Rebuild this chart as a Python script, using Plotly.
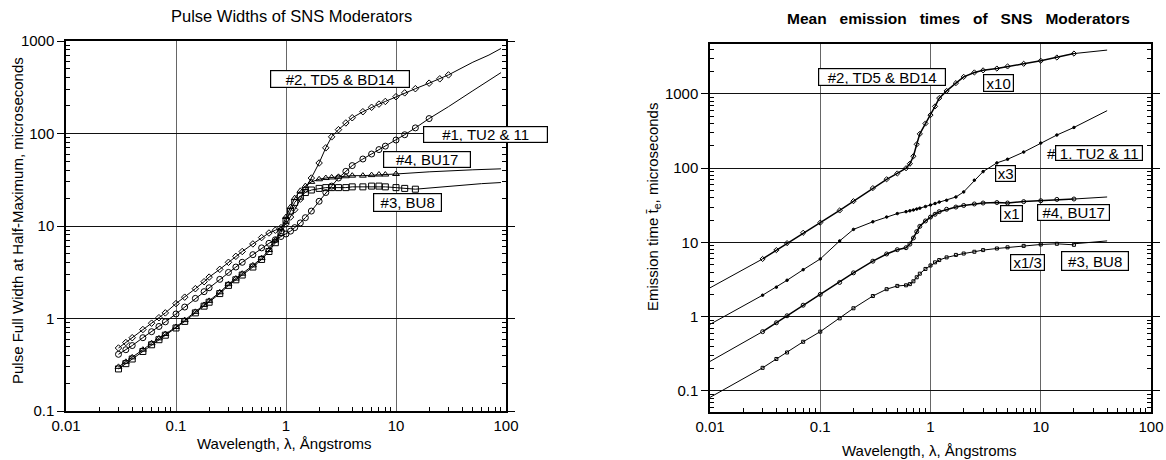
import math
import plotly.graph_objects as go

# ---------------- Left chart: pulse widths (FWHM, microseconds) ----------------
L_grid = [0.03, 0.035, 0.04, 0.05, 0.06, 0.07, 0.08, 0.1, 0.12, 0.15, 0.18, 0.2, 0.25,
          0.3, 0.35, 0.4, 0.5, 0.6, 0.7, 0.8, 0.9, 1.0, 1.1, 1.2, 1.35, 1.5, 1.7, 2.0,
          2.3, 2.6, 3, 3.5, 4, 5, 6, 7, 8, 10, 12, 15, 20, 25, 30]

L2_x = L_grid[:43]
L2_y = [0.48, 0.55, 0.62, 0.76, 0.89, 1.02, 1.15, 1.45, 1.7, 2.1, 2.5, 2.8, 3.4, 4.05,
        4.7, 5.3, 6.4, 7.5, 8.4, 9.0, 9.6, 10.5, 12.5, 15, 19.5, 25, 33, 48, 70, 92,
        110, 130, 148, 172, 192, 208, 222, 250, 275, 305, 350, 390, 430]
L2_fx = [30, 50, 70, 90]
L2_fy = [430, 590, 705, 830]

L1_x = L_grid[:41]
L1_y = [0.41, 0.46, 0.51, 0.62, 0.72, 0.82, 0.92, 1.12, 1.33, 1.65, 1.95, 2.15, 2.65,
        3.15, 3.6, 4.05, 4.9, 5.8, 6.5, 7.1, 7.7, 8.2, 8.8, 9.6, 10.8, 12.3, 14.5, 18.5,
        23, 27, 33, 39, 45, 53, 60, 67, 73, 85, 97, 115, 145]
L1_fx = [20, 30, 50, 70, 90]
L1_fy = [145, 195, 290, 375, 455]

L4_x = L_grid[:38]
L4_y = [0.30, 0.34, 0.38, 0.46, 0.54, 0.61, 0.68, 0.81, 0.96, 1.18, 1.4, 1.55, 1.92,
        2.35, 2.7, 3.05, 3.75, 4.5, 5.5, 7.0, 9.2, 12.5, 16, 20, 24, 27, 30, 32,
        33, 33.5, 34, 34.5, 35, 35, 35.5, 36, 36, 36.5]
L4_fx = [10, 20, 50, 90]
L4_fy = [36.5, 38.5, 40.5, 41.5]

L3_x = L_grid[:40]
L3_y = [0.285, 0.325, 0.365, 0.44, 0.52, 0.59, 0.66, 0.79, 0.93, 1.15, 1.36, 1.5, 1.86,
        2.28, 2.62, 2.95, 3.6, 4.35, 5.3, 6.6, 8.5, 11.5, 14.5, 18, 21, 23, 24.5, 25.5,
        26, 26, 26, 26, 26.5, 26.5, 27, 27, 26.5, 26, 25.5, 25]
L3_fx = [15, 30, 60, 90]
L3_fy = [25, 27, 28.7, 29.5]

# ---------------- Right chart: mean emission times (scaled) ----------------
R_x = [0.03, 0.04, 0.05, 0.07, 0.1, 0.15, 0.2, 0.3, 0.4, 0.5, 0.6, 0.65, 0.7, 0.75, 0.8,
       0.9, 1.0, 1.1, 1.2, 1.4, 1.7, 2, 2.5, 3, 4, 5, 7, 10, 14, 20]

R2_y = [6.0, 7.9, 9.8, 13.5, 18.5, 27, 36, 54, 71, 85, 100, 115, 145, 210, 290,
        400, 520, 680, 880, 1100, 1400, 1700, 1950, 2080, 2200, 2350, 2550, 2800, 3100, 3500]
R2_ext = ([0.01, 0.03], [2.45, 6.0], [20, 40], [3500, 3900])

R1_y = [1.95, 2.5, 3.1, 4.3, 6.0, 10.5, 15, 19, 22, 24.5, 26, 26.7, 27.4, 28.2, 29,
        30.5, 32, 33.5, 35, 37, 41, 48, 69, 90, 118, 132, 165, 218, 280, 354]
R1_ext = ([0.01, 0.03], [0.79, 1.95], [20, 40], [354, 596])

R4_y = [0.63, 0.83, 1.03, 1.43, 2.0, 2.9, 3.9, 5.6, 7.0, 8.0, 8.5, 9.5, 11.5, 14, 16.5,
        19.5, 22, 24, 26, 28, 30, 31.5, 33, 34, 34.5, 34, 35.5, 36.5, 38, 38.5]
R4_ext = ([0.01, 0.03], [0.25, 0.63], [20, 40], [38.5, 41])

R3_y = [0.205, 0.27, 0.33, 0.46, 0.63, 0.95, 1.3, 1.9, 2.35, 2.6, 2.65, 2.75, 3.0, 3.4, 3.8,
        4.4, 4.9, 5.4, 5.8, 6.3, 6.8, 7.1, 7.5, 7.9, 8.3, 8.6, 9.0, 9.4, 9.6, 9.3]
R3_ext = ([0.01, 0.03], [0.082, 0.205], [20, 40], [9.6, 10.5])

X_TICKS = [0.01, 0.1, 1, 10, 100]
X_TEXT = ["0.01", "0.1", "1", "10", "100"]
Y_TICKS = [0.1, 1, 10, 100, 1000]
Y_TEXT = ["0.1", "1", "10", "100", "1000"]

FONT = "Liberation Sans, Arial, sans-serif"
MINOR = [m * 10 ** k for k in range(-2, 4) for m in range(2, 10)]

fig = go.Figure()


def line(x, y, xa, ya, w=1):
    fig.add_trace(go.Scatter(x=x, y=y, mode="lines", xaxis=xa, yaxis=ya,
                             line=dict(color="black", width=w), showlegend=False,
                             hoverinfo="skip"))


def data(x, y, xa, ya, symbol, size, w=1):
    fig.add_trace(go.Scatter(x=x, y=y, mode="lines+markers", xaxis=xa, yaxis=ya,
                             line=dict(color="black", width=w),
                             marker=dict(symbol=symbol, size=size, color="black",
                                         line=dict(color="black", width=1)),
                             showlegend=False))


# Left
data(L2_x, L2_y, "x", "y", "diamond-open", 5)
line(L2_fx, L2_fy, "x", "y")
data(L1_x, L1_y, "x", "y", "circle-open", 6)
line(L1_fx, L1_fy, "x", "y")
data(L4_x, L4_y, "x", "y", "triangle-up-open", 6)
line(L4_fx, L4_fy, "x", "y")
data(L3_x, L3_y, "x", "y", "square-open", 6)
line(L3_fx, L3_fy, "x", "y")

# Right
for ys, ext, sym, sz, w in [(R2_y, R2_ext, "diamond-open", 4, 1.5),
                            (R1_y, R1_ext, "circle", 2.5, 1),
                            (R4_y, R4_ext, "circle-open", 4, 1.5),
                            (R3_y, R3_ext, "square-open", 3, 1)]:
    line(ext[0], ext[1], "x2", "y2")
    line(ext[2], ext[3], "x2", "y2")
    data(R_x, ys, "x2", "y2", sym, sz, w)


def xaxis(domain, anchor):
    return dict(type="log", domain=domain, anchor=anchor, range=[-2, 2], automargin=False,
                tickmode="array", tickvals=X_TICKS, ticktext=X_TEXT,
                ticks="", showgrid=True, gridcolor="#666", gridwidth=1,
                showline=True, linecolor="black", linewidth=1.5, mirror=True,
                zeroline=False, tickfont=dict(family=FONT, size=15, color="black"),
                minor=dict(tickmode="array", tickvals=MINOR, ticks="inside",
                           ticklen=4, tickcolor="black", tickwidth=1, showgrid=False))


def yaxis(domain, anchor, rng):
    return dict(type="log", domain=domain, anchor=anchor, range=rng, automargin=False,
                tickmode="array", tickvals=Y_TICKS, ticktext=Y_TEXT,
                ticks="outside", ticklen=7, tickcolor="black", tickwidth=1,
                showgrid=True, gridcolor="#111", gridwidth=1,
                showline=True, linecolor="black", linewidth=1.5, mirror="ticks",
                zeroline=False, tickfont=dict(family=FONT, size=15, color="black"),
                minor=dict(tickmode="array", tickvals=MINOR, ticks="inside",
                           ticklen=4, tickcolor="black", tickwidth=1, showgrid=False))


W, H = 1166, 460
fig.update_layout(
    width=W, height=H, autosize=False,
    margin=dict(l=0, r=0, t=0, b=0),
    paper_bgcolor="white", plot_bgcolor="white",
    font=dict(family=FONT, size=15, color="black"),
    xaxis=xaxis([66 / W, 506 / W], "y"),
    yaxis=yaxis([(H - 411) / H, (H - 41) / H], "x", [-1, 3]),
    xaxis2=xaxis([710 / W, 1151 / W], "y2"),
    yaxis2=yaxis([(H - 412) / H, (H - 44) / H], "x2", [-1.283, 3.673]),
)

ann = []


def box(xr, yr, text, x, y, w, h, border=True):
    d = dict(xref=xr, yref=yr, x=math.log10(x), y=math.log10(y), text=text,
             xanchor="center", yanchor="middle",
             showarrow=False, font=dict(family=FONT, size=15, color="black"),
             bgcolor="white" if border else "rgba(0,0,0,0)", borderpad=1)
    if border:
        d.update(bordercolor="black", borderwidth=1.2, width=w, height=h)
    ann.append(d)


# Left chart labels
box("x", "y", "#2, TD5 & BD14", 3.1, 393, 136, 14)
box("x", "y", "#1, TU2 & 11", 65, 97, 121, 13)
box("x", "y", "#4, BU17", 19, 52, 84, 13)
box("x", "y", "#3, BU8", 12.8, 17.8, 65, 15)

# Right chart labels
box("x2", "y2", "#2, TD5 & BD14", 0.365, 1715, 124, 14)
box("x2", "y2", "x10", 4.12, 1394, 27, 14)
box("x2", "y2", "1, TU2 & 11", 33.6, 160, 84, 12)
box("x2", "y2", "#", 12.5, 160, 0, 0, border=False)
box("x2", "y2", "x3", 4.78, 84, 17, 13)
box("x2", "y2", "x1", 5.45, 24.7, 19, 13)
box("x2", "y2", "#4, BU17", 19.8, 25.7, 69, 13)
box("x2", "y2", "x1/3", 7.6, 5.4, 31, 13)
box("x2", "y2", "#3, BU8", 31, 5.7, 64, 16)


def ptext(px, py, text, size=15, angle=0):
    return dict(xref="paper", yref="paper", x=px / W, y=(H - py) / H, showarrow=False,
                xanchor="center", yanchor="middle", textangle=angle, text=text,
                font=dict(family=FONT, size=size, color="black"))


SP = "\u00a0\u00a0 "
ann += [
    ptext(291, 16, "Pulse Widths of SNS Moderators", 16.5),
    ptext(958, 18, "<b>" + SP.join(["Mean", "emission", "times", "of", "SNS", "Moderators"]) + "</b>", 15.5),
    ptext(17, 221, "Pulse Full Width at Half-Maximum, microseconds", 15, -90),
    ptext(654, 207, "Emission time t\u0304<sub>e</sub>, microseconds", 15, -90),
    ptext(284, 443, "Wavelength, \u03bb, \u00c5ngstroms"),
    ptext(929, 450, "Wavelength, \u03bb, \u00c5ngstroms"),
]
fig.update_layout(annotations=ann)

fig.write_html("out.html", config={"displayModeBar": False},
               post_script="document.body.style.margin='0';document.body.style.overflow='hidden';")
